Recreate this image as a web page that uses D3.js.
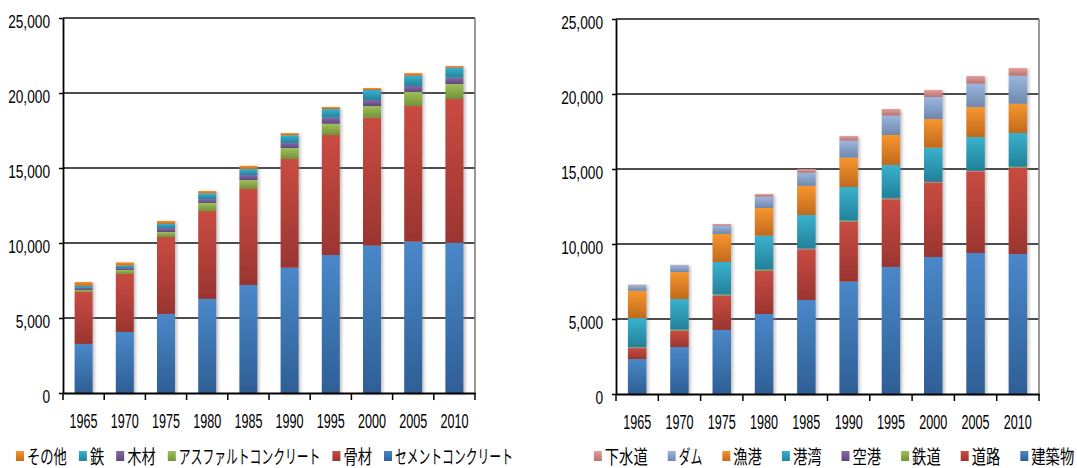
<!DOCTYPE html>
<html>
<head>
<meta charset="utf-8">
<script src="https://cdn.jsdelivr.net/npm/d3@7"></script>
<style>
  body { margin: 0; background: #fff; }
  text { font-family: "Liberation Sans", Arial, sans-serif; fill: #000; }
  .legend text { font-family: "Noto Sans CJK JP", sans-serif; }
</style>
</head>
<body>
<svg id="chart" width="1077" height="468"></svg>
<script>
const years = ["1965", "1970", "1975", "1980", "1985", "1990", "1995", "2000", "2005", "2010"];
const yTicks = [0, 5000, 10000, 15000, 20000, 25000];

// left chart: materials (bottom -> top)
const materialNames = ["セメントコンクリート", "骨材", "アスファルトコンクリート", "木材", "鉄", "その他"];
const cement    = [3270, 4070, 5270, 6270, 7200, 8350, 9200, 9820, 10090, 10020];
const aggregate = [3460, 3870, 5130, 5860, 6400, 7250, 8000, 8530, 9040, 9580];
const asphalt   = [140, 260, 330, 540, 600, 730, 750, 780, 940, 1000];
const wood      = [150, 130, 270, 260, 330, 340, 400, 400, 400, 420];
const iron      = [130, 160, 270, 380, 400, 510, 580, 670, 680, 670];
const other     = [250, 220, 200, 160, 220, 150, 140, 130, 180, 110];

// right chart: facilities (bottom -> top)
const facilityNames = ["建築物", "道路", "鉄道", "空港", "港湾", "漁港", "ダム", "下水道"];
const building    = [2330, 3130, 4270, 5330, 6270, 7490, 8470, 9130, 9400, 9330];
const road        = [730, 1090, 2290, 2890, 3370, 4000, 4510, 4960, 5420, 5760];
const railway     = [60, 60, 60, 60, 30, 60, 60, 50, 50, 50];
const airport     = [10, 10, 10, 10, 40, 10, 30, 60, 60, 10];
const port        = [1930, 2040, 2170, 2260, 2220, 2240, 2200, 2220, 2200, 2250];
const fishingPort = [1820, 1800, 1870, 1850, 1950, 1960, 2000, 1910, 2000, 1950];
const dam         = [360, 450, 550, 750, 870, 1130, 1290, 1470, 1560, 1870];
const sewer       = [50, 30, 110, 180, 240, 310, 440, 470, 510, 510];

// gradient colours, top -> bottom
const blue   = ["#4a88c9", "#2e5f95"];
const red    = ["#c94c42", "#9a3530"];
const green  = ["#9ec05b", "#74903a"];
const purple = ["#8569a7", "#5e497d"];
const teal   = ["#3ab1cd", "#23819a"];
const orange = ["#f7962f", "#c06a1d"];
const lilac  = ["#9bb6df", "#6f88ad"];
const pink   = ["#e2a09e", "#b67370"];

const svg = d3.select("#chart");
const defs = svg.append("defs");

defs.append("filter").attr("id", "shadow")
    .attr("x", "-20%").attr("y", "-5%").attr("width", "150%").attr("height", "115%")
  .append("feDropShadow")
    .attr("dx", 2).attr("dy", 1).attr("stdDeviation", 1.5)
    .attr("flood-color", "#777").attr("flood-opacity", 0.45);

function squeeze(sel, f) {
  sel.each(function() {
    const w = this.getComputedTextLength();
    d3.select(this).attr("textLength", w * f).attr("lengthAdjust", "spacingAndGlyphs");
  });
}

// the original legend font is narrow and proportional: kana are narrower than kanji
function labelWidth(s) {
  let w = 0;
  for (const ch of s) {
    if (/[\u3040-\u309f]/.test(ch)) w += 12.8;
    else if (/[\u30a0-\u30ff]/.test(ch)) w += 11.8;
    else w += 14.3;
  }
  return w;
}

function drawPanel(cfg) {
  const id = cfg.id;
  cfg.colors.forEach((c, k) => {
    const g = defs.append("linearGradient").attr("id", id + k)
        .attr("x1", 0).attr("y1", 0).attr("x2", 0).attr("y2", 1);
    g.append("stop").attr("offset", "0%").attr("stop-color", c[0]);
    g.append("stop").attr("offset", "100%").attr("stop-color", c[1]);
  });

  const rows = years.map((yr, i) => {
    const r = { year: yr };
    cfg.names.forEach((n, k) => r[n] = cfg.values[k][i]);
    return r;
  });
  const stacked = d3.stack().keys(cfg.names)(rows);

  const x = d3.scaleBand().domain(years)
      .range([cfg.left, cfg.right])
      .paddingInner(0.563).paddingOuter(0.2815);
  const y = d3.scaleLinear().domain([0, 25000]).range([cfg.bottom, cfg.top]);

  const panel = svg.append("g");

  // gridlines
  panel.append("g").selectAll("line")
    .data(yTicks.filter(t => t > 0))
    .join("line")
      .attr("x1", cfg.left).attr("x2", cfg.right)
      .attr("y1", d => y(d)).attr("y2", d => y(d))
      .attr("stroke", "#111").attr("stroke-width", 1.6);

  // right border of plot area
  panel.append("line")
      .attr("x1", cfg.right).attr("x2", cfg.right)
      .attr("y1", y(25000)).attr("y2", y(0))
      .attr("stroke", "#808080").attr("stroke-width", 1.6);

  // bars
  const bars = panel.append("g").attr("filter", "url(#shadow)");
  bars.selectAll("g")
    .data(stacked)
    .join("g")
      .attr("fill", (d, k) => `url(#${id}${k})`)
    .selectAll("rect")
    .data(d => d)
    .join("rect")
      .attr("x", d => x(d.data.year))
      .attr("width", x.bandwidth())
      .attr("y", d => y(d[1]))
      .attr("height", d => y(d[0]) - y(d[1]));

  // y axis
  const yAxis = panel.append("g")
      .attr("transform", `translate(${cfg.left},0)`)
      .call(d3.axisLeft(y).tickValues(yTicks).tickSizeInner(4).tickSizeOuter(0).tickFormat(d3.format(",")));
  yAxis.select(".domain").attr("stroke", "#000").attr("stroke-width", 1.8);
  yAxis.selectAll(".tick line").attr("stroke", "#000").attr("stroke-width", 1.5);
  yAxis.selectAll("text")
      .attr("x", -13).attr("dy", "0.55em")
      .style("font-size", "18px").attr("fill", "#000");
  squeeze(yAxis.selectAll("text"), 0.76);

  // x axis
  const xAxis = panel.append("g")
      .attr("transform", `translate(0,${cfg.bottom})`)
      .call(d3.axisBottom(x).tickSize(0));
  xAxis.select(".domain").attr("stroke", "#000").attr("stroke-width", 1.8);
  xAxis.selectAll("text")
      .attr("y", 35).attr("dy", 0)
      .style("font-size", "20px").attr("fill", "#000");
  squeeze(xAxis.selectAll("text"), 0.63);

  const bounds = years.map(yr => x(yr) - (x.step() - x.bandwidth()) / 2).concat([cfg.right]);
  xAxis.selectAll(".bound")
    .data(bounds)
    .join("line")
      .attr("class", "bound")
      .attr("x1", d => d).attr("x2", d => d)
      .attr("y1", 0).attr("y2", 7)
      .attr("stroke", "#000").attr("stroke-width", 1.5);

  // legend (top series first)
  const legend = svg.append("g").attr("class", "legend");
  const items = cfg.names.map((n, k) => ({ name: n, k: k, w: labelWidth(n) })).reverse();
  let cursor = 0;
  items.forEach(d => { d.x = cursor; cursor += 11 + d.w + cfg.legendGap; });
  const total = cursor - cfg.legendGap;

  const item = legend.selectAll("g")
    .data(items)
    .join("g")
      .attr("transform", d => `translate(${d.x},0)`);
  item.append("rect")
      .attr("x", 0).attr("y", -13)
      .attr("width", 8).attr("height", 10)
      .attr("fill", d => `url(#${id}${d.k})`);
  item.append("text")
      .attr("x", 11).attr("y", 0)
      .style("font-size", "19px")
      .attr("textLength", d => d.w)
      .attr("lengthAdjust", "spacingAndGlyphs")
      .text(d => d.name);

  legend.attr("transform", `translate(${cfg.legendCenter - total / 2},${cfg.legendY})`);
}

drawPanel({
  id: "mat",
  names: materialNames,
  values: [cement, aggregate, asphalt, wood, iron, other],
  colors: [blue, red, green, purple, teal, orange],
  left: 63, right: 475, top: 18, bottom: 393,
  legendCenter: 264.5, legendY: 464, legendGap: 12
});

drawPanel({
  id: "fac",
  names: facilityNames,
  values: [building, road, railway, airport, port, fishingPort, dam, sewer],
  colors: [blue, red, green, purple, teal, orange, lilac, pink],
  left: 616, right: 1039, top: 19, bottom: 394,
  legendCenter: 834, legendY: 464, legendGap: 20
});
</script>
</body>
</html>
